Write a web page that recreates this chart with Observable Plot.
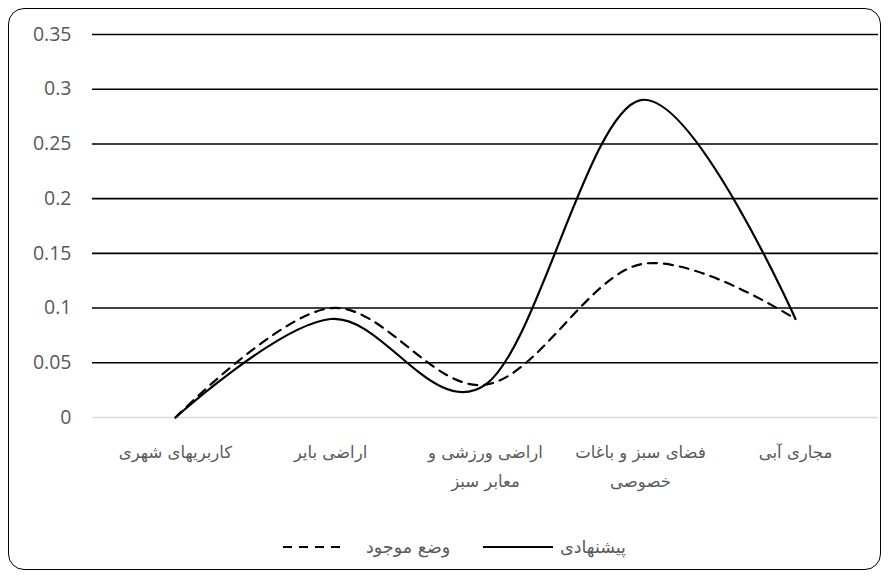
<!DOCTYPE html>
<html>
<head>
<meta charset="utf-8">
<script src="https://cdn.jsdelivr.net/npm/d3@7"></script>
<script src="https://cdn.jsdelivr.net/npm/@observablehq/plot@0.6"></script>
<style>
  html, body { margin: 0; padding: 0; background: #fff; }
  body { width: 892px; height: 580px; position: relative; overflow: hidden; font-family: "Open Sans", "DejaVu Sans", sans-serif; }
  #frame { position: absolute; left: 8px; top: 8px; width: 873px; height: 562px; border: 1.6px solid #000; border-radius: 16px; box-sizing: border-box; }
  #chart { position: absolute; left: 0; top: 0; }
  .lg { position: absolute; font-size: 17.5px; color: #595959; white-space: nowrap; font-family: "DejaVu Sans", sans-serif; }
  .sw { position: absolute; }
</style>
</head>
<body>
<div id="frame"></div>
<div id="chart"></div>
<svg class="sw" style="left:283px;top:541px" width="64" height="12"><line x1="0" y1="6" x2="64" y2="6" stroke="#000" stroke-width="2.2" stroke-dasharray="9,7"/></svg>
<span class="lg" dir="rtl" style="left:366px;top:537px">وضع موجود</span>
<svg class="sw" style="left:483px;top:541px" width="70" height="12"><line x1="0" y1="6" x2="70" y2="6" stroke="#000" stroke-width="2.2"/></svg>
<span class="lg" dir="rtl" style="left:560px;top:537px">پیشنهادی</span>
<script>
const categories = ["کاربریهای شهری", "اراضی بایر", "اراضی ورزشی و معابر سبز", "فضای سبز و باغات خصوصی", "مجاری آبی"];
const tickLabels = ["کاربریهای شهری", "اراضی بایر", "اراضی ورزشی و\nمعابر سبز", "فضای سبز و باغات\nخصوصی", "مجاری آبی"];
const existing = [0, 0.1, 0.03, 0.14, 0.09];   // وضع موجود (dashed)
const proposed = [0, 0.09, 0.03, 0.29, 0.09];  // پیشنهادی (solid)
const yTicks = [0, 0.05, 0.1, 0.15, 0.2, 0.25, 0.3, 0.35];

const existingData = categories.map((c, i) => ({cat: c, v: existing[i]}));
const proposedData = categories.map((c, i) => ({cat: c, v: proposed[i]}));
const labelOf = new Map(categories.map((c, i) => [c, tickLabels[i]]));

const chart = Plot.plot({
  width: 892,
  height: 500,
  marginLeft: 92,
  marginRight: 14,
  marginTop: 34,
  marginBottom: 83,
  style: { fontFamily: "'Open Sans', 'DejaVu Sans', sans-serif", fontSize: "16px", color: "#595959", background: "transparent" },
  x: { type: "point", domain: categories, padding: 0.52, label: null },
  y: { domain: [0, 0.35], label: null },
  marks: [
    Plot.ruleY(yTicks.filter(d => d > 0), { stroke: "#000", strokeWidth: 1.6 }),
    Plot.ruleY([0], { stroke: "#d9d9d9", strokeWidth: 1.6 }),
    Plot.axisY(yTicks, {
      tickSize: 0, tickPadding: 21, fontSize: 19.5, fill: "#595959", label: null,
      tickFormat: d => d === 0 ? "0" : String(+d.toFixed(2))
    }),
    Plot.axisX({
      tickSize: 0, tickPadding: 19, fontSize: 16.5, fill: "#595959", label: null,
      lineHeight: 1.8, fontFamily: "'DejaVu Sans', sans-serif",
      tickFormat: d => labelOf.get(d)
    }),
    Plot.line(existingData, { x: "cat", y: "v", curve: "cardinal", tension: 0, stroke: "#000", strokeWidth: 2.2, strokeDasharray: "9,7" }),
    Plot.line(proposedData, { x: "cat", y: "v", curve: "cardinal", tension: 0, stroke: "#000", strokeWidth: 2.2 })
  ]
});
document.getElementById("chart").appendChild(chart);
</script>
</body>
</html>
